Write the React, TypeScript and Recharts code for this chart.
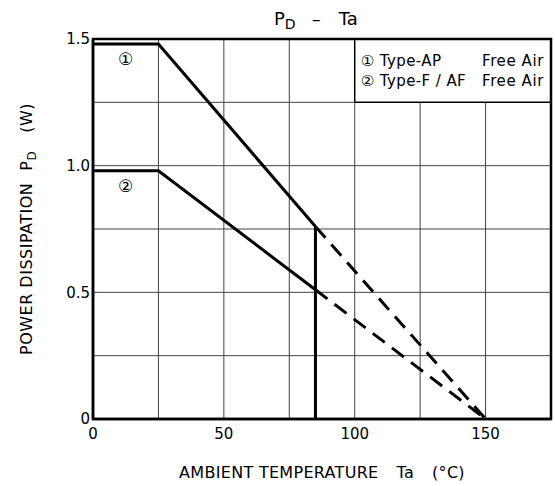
import React from 'react';
import {
  ComposedChart,
  Line,
  XAxis,
  YAxis,
  CartesianGrid,
  ReferenceArea,
  ReferenceDot,
  Label,
} from 'recharts';

// ---- axis ticks ----
const X_TICKS = [0, 25, 50, 75, 100, 125, 150, 175];
const X_LABELED = [0, 50, 100, 150];
const Y_TICKS = [0, 0.25, 0.5, 0.75, 1.0, 1.25, 1.5];
const Y_LABELED = [0, 0.5, 1.0, 1.5];

// ---- series (Ta in °C, PD in W) ----
const SOLID_TEMPS = [0, 25, 85];
const TYPE_AP_SOLID = [1.48, 1.48, 0.76];
const TYPE_F_SOLID = [0.98, 0.98, 0.51];
const DASHED_TEMPS = [85, 150];
const TYPE_AP_DASHED = [0.76, 0];
const TYPE_F_DASHED = [0.51, 0];
const CUTOFF_TEMPS = [85, 85];
const CUTOFF_POWER = [0, 0.76];

// ---- annotations ----
const MARK_1 = { t: 12.5, p: 1.42, text: '①' };
const MARK_2 = { t: 12.5, p: 0.92, text: '②' };
const LEGEND_BOX = { t1: 100, t2: 175, p1: 1.25, p2: 1.5 };
const LEGEND_ROWS = [
  { left: '① Type-AP', right: 'Free Air' },
  { left: '② Type-F / AF', right: 'Free Air' },
];

const pts = (xs: number[], ys: number[]) => xs.map((t, i) => ({ t, p: ys[i] }));

const FONT = "'DejaVu Sans', Verdana, sans-serif";

const LegendContent = (props: any) => {
  const vb = props.viewBox || {};
  const x = vb.x ?? 0;
  const y = vb.y ?? 0;
  const w = vb.width ?? 0;
  return (
    <g fontFamily={FONT} fontSize={15} fill="#000">
      {LEGEND_ROWS.map((r, i) => (
        <g key={i}>
          <text x={x + 6} y={y + 27 + i * 20} textAnchor="start" letterSpacing={0.4}>
            {r.left}
          </text>
          <text x={x + w - 7} y={y + 27 + i * 20} textAnchor="end" letterSpacing={0.6}>
            {r.right}
          </text>
        </g>
      ))}
    </g>
  );
};

const YTitle = (props: any) => {
  const vb = props.viewBox || {};
  const cx = (vb.x ?? 0) + 32;
  const cy = (vb.y ?? 0) + (vb.height ?? 0) / 2;
  return (
    <text
      x={cx}
      y={cy}
      transform={`rotate(-90 ${cx} ${cy})`}
      textAnchor="middle"
      fontFamily={FONT}
      fontSize={16}
      letterSpacing={0.5}
      fill="#000"
    >
      <tspan>POWER DISSIPATION</tspan>
      <tspan dx={12}>P</tspan>
      <tspan dy={4} fontSize={12}>D</tspan>
      <tspan dx={18} dy={-4}>(W)</tspan>
    </text>
  );
};

const XTitle = (props: any) => {
  const vb = props.viewBox || {};
  const cx = (vb.x ?? 0) + (vb.width ?? 0) / 2;
  const by = (vb.y ?? 0) + 59;
  return (
    <text x={cx} y={by} textAnchor="middle" fontFamily={FONT} fontSize={16} letterSpacing={0.3} fill="#000">
      <tspan>AMBIENT TEMPERATURE</tspan>
      <tspan dx={18}>Ta</tspan>
      <tspan dx={18}>(°C)</tspan>
    </text>
  );
};

export default function App() {
  return (
    <div style={{ position: 'absolute', left: 0, top: 0, width: 555, height: 486, background: '#fff' }}>
      <ComposedChart
        width={555}
        height={486}
        margin={{ top: 39, right: 4, bottom: 0, left: 0 }}
        style={{ fontFamily: FONT }}
      >
        <CartesianGrid stroke="#444" strokeWidth={1} />
        <XAxis
          dataKey="t"
          type="number"
          domain={[0, 175]}
          ticks={X_TICKS}
          interval={0}
          allowDataOverflow
          height={67}
          tickLine={false}
          tickSize={0}
          tickMargin={9}
          axisLine={{ stroke: '#000', strokeWidth: 2.5 }}
          tick={{ fill: '#000', fontSize: 15, fontFamily: FONT }}
          tickFormatter={(v: number) => (X_LABELED.includes(v) ? String(v) : '')}
        >
          <Label content={<XTitle />} />
        </XAxis>
        <YAxis
          dataKey="p"
          type="number"
          domain={[0, 1.5]}
          ticks={Y_TICKS}
          interval={0}
          allowDataOverflow
          width={93}
          tickLine={false}
          tickSize={0}
          tickMargin={3}
          axisLine={{ stroke: '#000', strokeWidth: 2.5 }}
          tick={{ fill: '#000', fontSize: 15, fontFamily: FONT }}
          tickFormatter={(v: number) => (Y_LABELED.includes(v) ? (v === 0 ? '0' : v.toFixed(1)) : '')}
        >
          <Label content={<YTitle />} />
        </YAxis>

        <ReferenceArea
          x1={LEGEND_BOX.t1}
          x2={LEGEND_BOX.t2}
          y1={LEGEND_BOX.p1}
          y2={LEGEND_BOX.p2}
          fill="#fff"
          fillOpacity={1}
          stroke="#000"
          strokeWidth={1.5}
          label={<LegendContent />}
        />

        <Line data={pts(SOLID_TEMPS, TYPE_AP_SOLID)} dataKey="p" type="linear" stroke="#000" strokeWidth={3} dot={false} isAnimationActive={false} />
        <Line data={pts(SOLID_TEMPS, TYPE_F_SOLID)} dataKey="p" type="linear" stroke="#000" strokeWidth={3} dot={false} isAnimationActive={false} />
        <Line data={pts(DASHED_TEMPS, TYPE_AP_DASHED)} dataKey="p" type="linear" stroke="#000" strokeWidth={3} strokeDasharray="15 9" dot={false} isAnimationActive={false} />
        <Line data={pts(DASHED_TEMPS, TYPE_F_DASHED)} dataKey="p" type="linear" stroke="#000" strokeWidth={3} strokeDasharray="15 9" dot={false} isAnimationActive={false} />
        <Line data={pts(CUTOFF_TEMPS, CUTOFF_POWER)} dataKey="p" type="linear" stroke="#000" strokeWidth={3} dot={false} isAnimationActive={false} />

        <ReferenceDot x={MARK_1.t} y={MARK_1.p} r={1} fill="none" stroke="none"
          label={{ value: MARK_1.text, position: 'center', fontSize: 17, fill: '#000', fontFamily: FONT }} />
        <ReferenceDot x={MARK_2.t} y={MARK_2.p} r={1} fill="none" stroke="none"
          label={{ value: MARK_2.text, position: 'center', fontSize: 17, fill: '#000', fontFamily: FONT }} />

        <ReferenceArea x1={0} x2={175} y1={0} y2={1.5} fill="none" stroke="#000" strokeWidth={2.5} />

        <text x={274} y={25} textAnchor="start" fontFamily={FONT} fontSize={18} fill="#000">
          <tspan>P</tspan>
          <tspan dy={4} fontSize={14}>D</tspan>
          <tspan dx={16} dy={-4}>–</tspan>
          <tspan dx={18}>Ta</tspan>
        </text>
      </ComposedChart>
    </div>
  );
}
